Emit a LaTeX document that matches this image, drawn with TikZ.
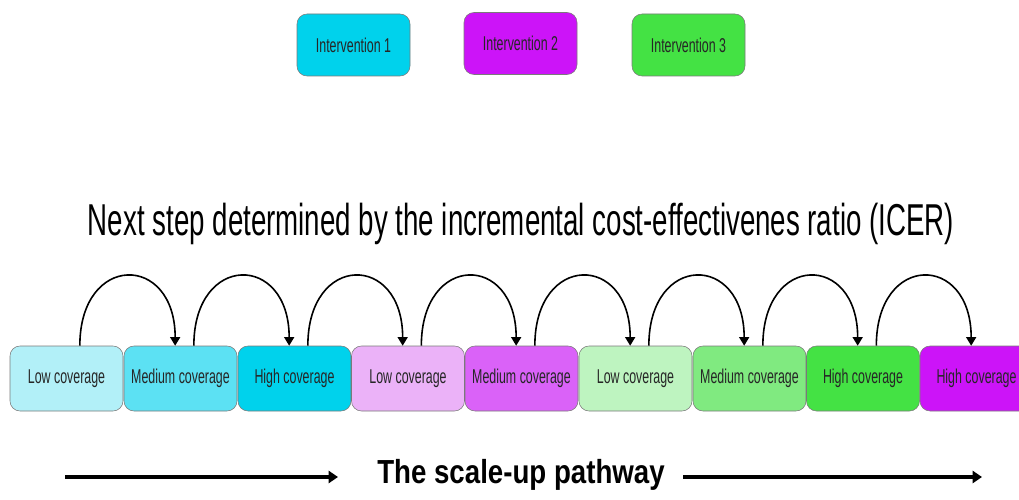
\documentclass[tikz,border=0pt]{standalone}
\usepackage{fontspec}
\setmainfont{Liberation Sans}[FakeStretch=0.62]
\newfontfamily\pathfont{Liberation Sans Bold}[FakeStretch=0.83]
\usepackage{tikz}
\usetikzlibrary{arrows.meta}
\definecolor{cyanA}{HTML}{B2F0F8}
\definecolor{cyanB}{HTML}{5CE1F3}
\definecolor{cyanC}{HTML}{00D2EC}
\definecolor{violA}{HTML}{EBB2F8}
\definecolor{violB}{HTML}{DA62F8}
\definecolor{violC}{HTML}{CC14F8}
\definecolor{greenA}{HTML}{BEF4C0}
\definecolor{greenB}{HTML}{80EA80}
\definecolor{greenC}{HTML}{44E244}
\definecolor{boxline}{HTML}{7A7A7A}
\tikzset{
  intbox/.style={draw=boxline, rounded corners=7.5pt, minimum width=84.75pt, minimum height=46.5pt, font=\fontsize{15}{17}\selectfont, text=black!85},
  covbox/.style={draw=boxline, rounded corners=7.5pt, minimum width=84.75pt, minimum height=48.75pt, font=\fontsize{15}{17}\selectfont, text=black!85},
  hop/.style={line width=1.2pt, -{Triangle[width=7.5pt,length=6.5pt]}},
  bigarrow/.style={line width=3pt, -{Triangle[width=9pt,length=7pt]}}
}
\begin{document}
\begin{tikzpicture}[x=0.75pt,y=0.75pt,yscale=-1,xscale=1]
\useasboundingbox (0,0) rectangle (1019,499);
\node [intbox, fill=cyanC] (int1) at (353.5,45) {Intervention 1};
\node [intbox, fill=violC] (int2) at (520.5,43.5) {Intervention 2};
\node [intbox, fill=greenC] (int3) at (688.5,45) {Intervention 3};
\node [font=\fontsize{33.5}{38}\selectfont, inner sep=0pt, anchor=base] (icer) at (521,235) {Next step determined by the incremental cost-effectivenes ratio (ICER)};
\node [covbox, fill=cyanA] (low1) at (66.5,378.5) {Low coverage};
\node [covbox, fill=cyanB] (med1) at (180.5,378.5) {Medium coverage};
\node [covbox, fill=cyanC] (high1) at (294.5,378.5) {High coverage};
\node [covbox, fill=violA] (low2) at (408,378.5) {Low coverage};
\node [covbox, fill=violB] (med2) at (521.5,378.5) {Medium coverage};
\node [covbox, fill=greenA] (low3) at (635.5,378.5) {Low coverage};
\node [covbox, fill=greenB] (med3) at (749.5,378.5) {Medium coverage};
\node [covbox, fill=greenC] (high3) at (863,378.5) {High coverage};
\node [covbox, fill=violC] (high2) at (976.5,378.5) {High coverage};
% hops along the pathway
\draw [hop] ([xshift=10pt]low1.north) .. controls +(0,-93) and +(0,-93) .. ([xshift=-4pt]med1.north);
\draw [hop] ([xshift=10pt]med1.north) .. controls +(0,-93) and +(0,-93) .. ([xshift=-4pt]high1.north);
\draw [hop] ([xshift=10pt]high1.north) .. controls +(0,-93) and +(0,-93) .. ([xshift=-4pt]low2.north);
\draw [hop] ([xshift=10pt]low2.north) .. controls +(0,-93) and +(0,-93) .. ([xshift=-4pt]med2.north);
\draw [hop] ([xshift=10pt]med2.north) .. controls +(0,-93) and +(0,-93) .. ([xshift=-4pt]low3.north);
\draw [hop] ([xshift=10pt]low3.north) .. controls +(0,-93) and +(0,-93) .. ([xshift=-4pt]med3.north);
\draw [hop] ([xshift=10pt]med3.north) .. controls +(0,-93) and +(0,-93) .. ([xshift=-4pt]high3.north);
\draw [hop] ([xshift=10pt]high3.north) .. controls +(0,-93) and +(0,-93) .. ([xshift=-4pt]high2.north);
% scale-up pathway
\node [font=\fontsize{25}{29}\pathfont, inner sep=0pt, anchor=base] (scaleup) at (521,483) {The scale-up pathway};
\coordinate (lstart) at (65,477);
\coordinate (lend) at (338,477);
\coordinate (rstart) at (683,477);
\coordinate (rend) at (982,477);
\draw [bigarrow] (lstart) -- (lend);
\draw [bigarrow] (rstart) -- (rend);
\end{tikzpicture}
\end{document}
